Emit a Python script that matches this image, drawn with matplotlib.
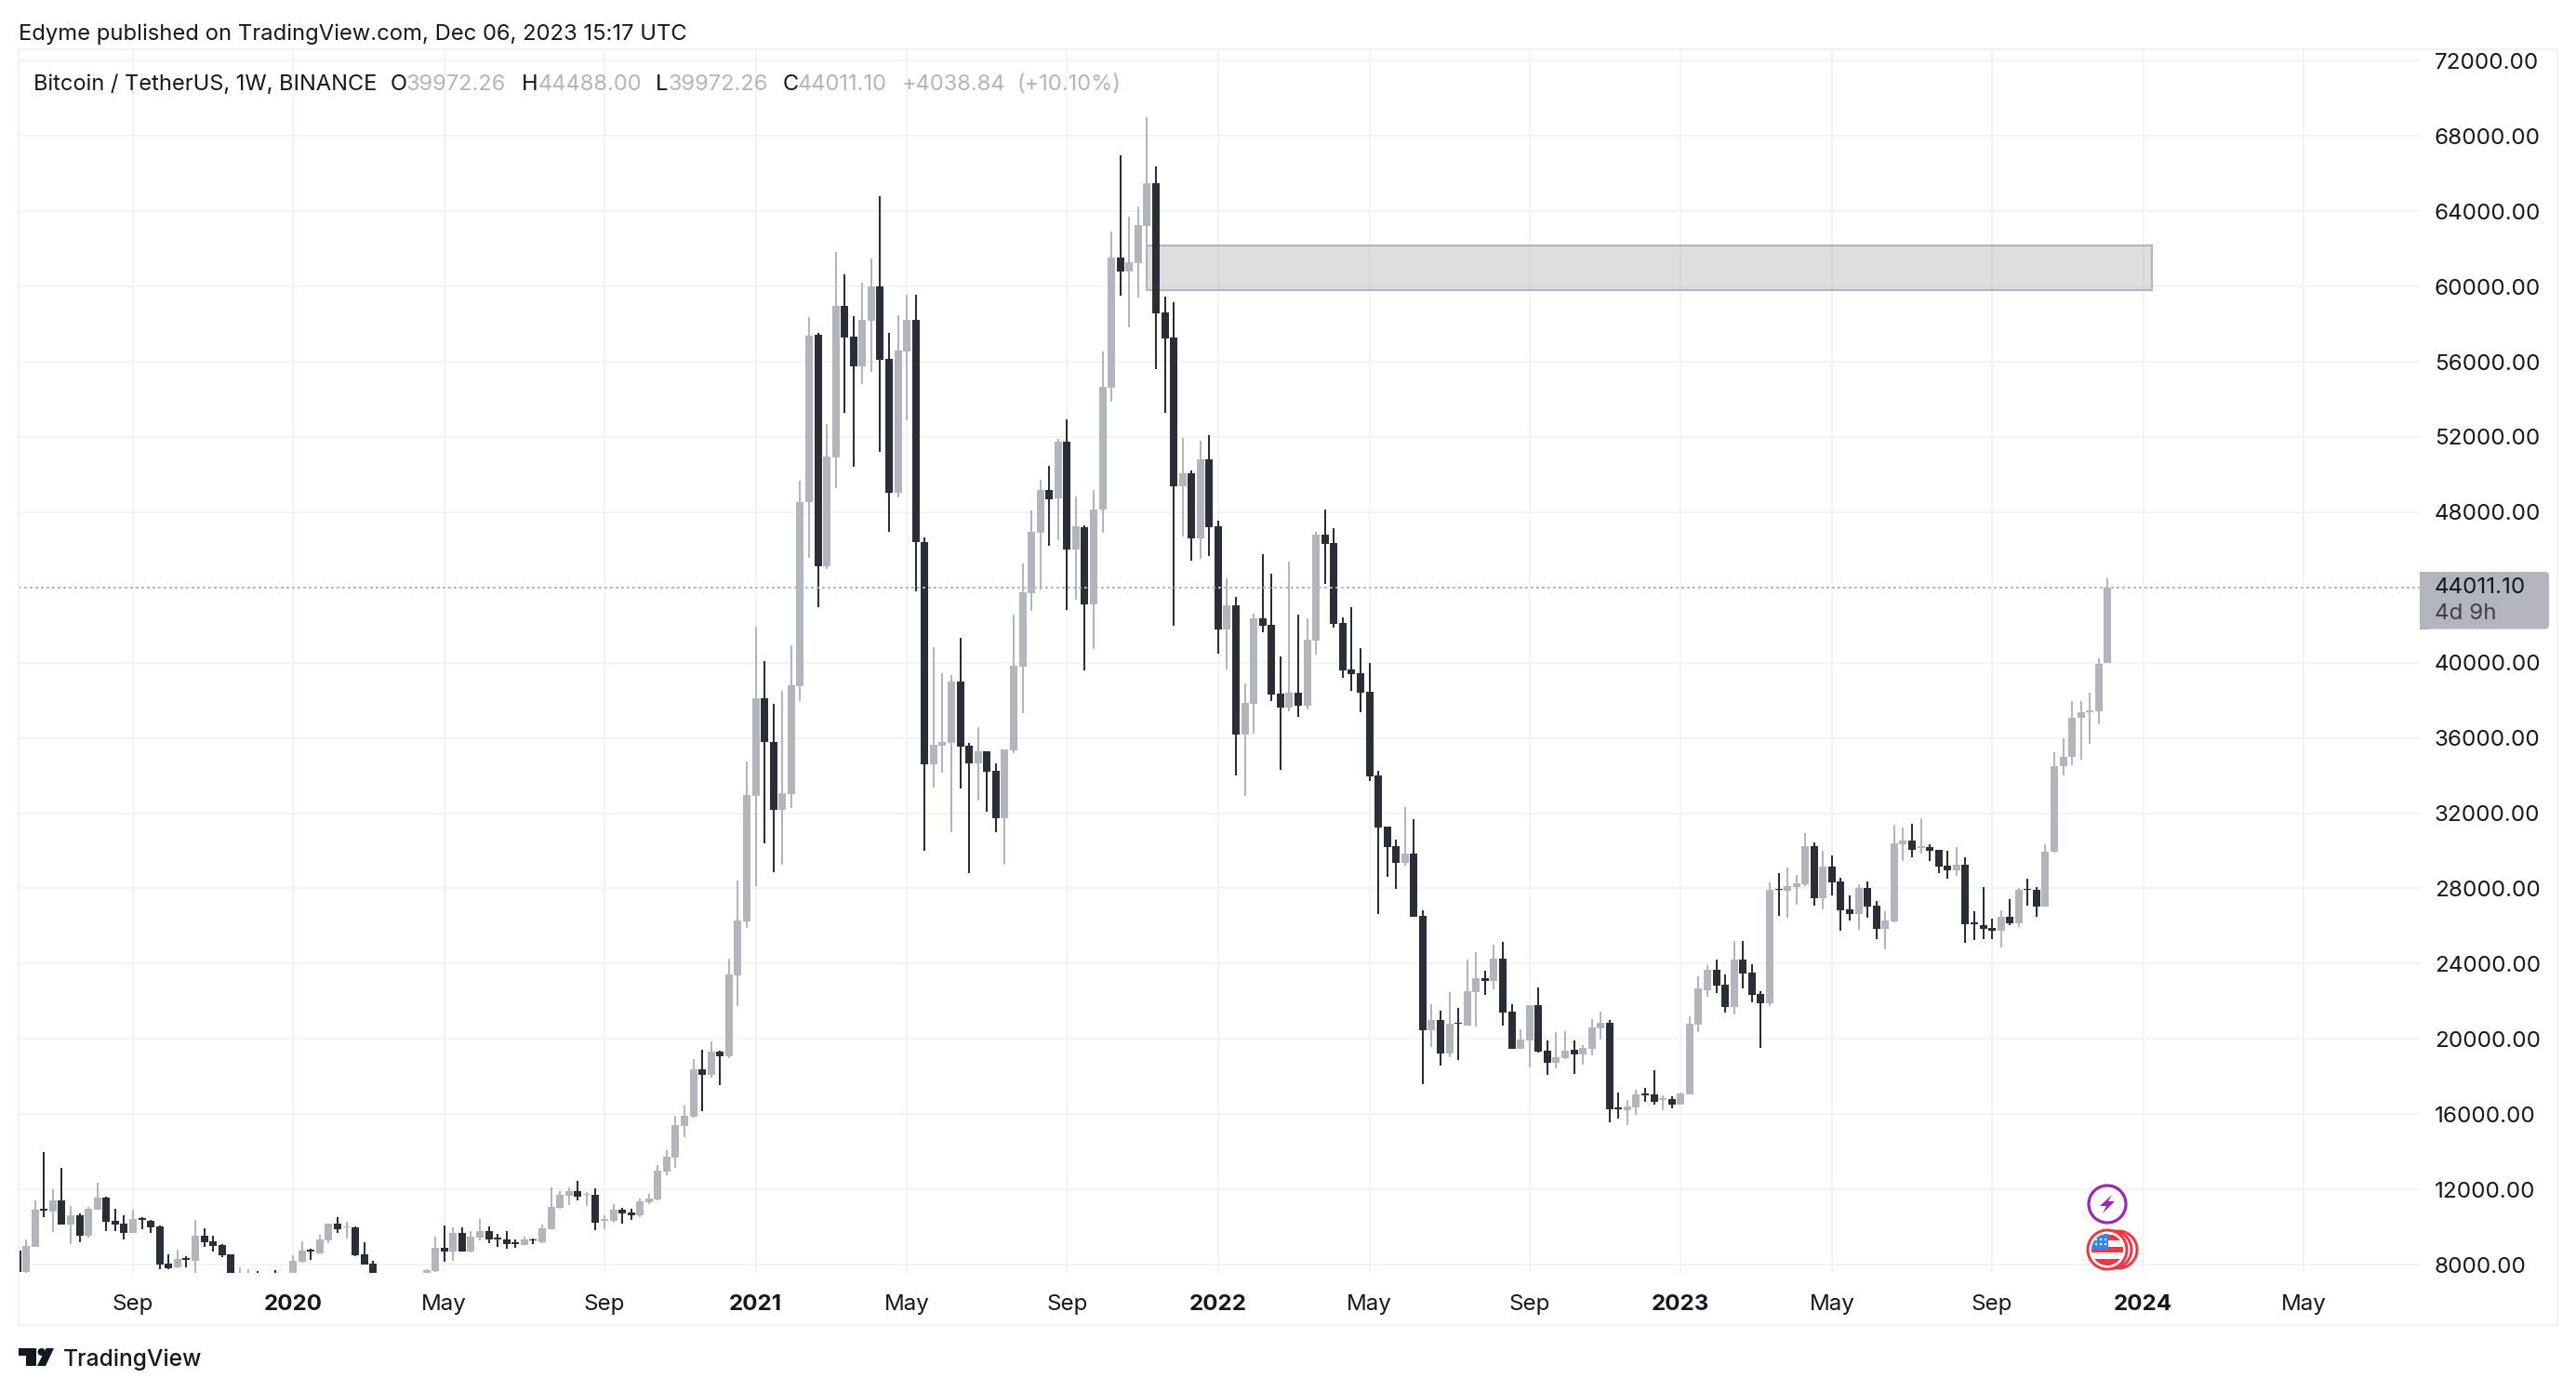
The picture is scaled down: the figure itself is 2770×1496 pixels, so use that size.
import matplotlib
matplotlib.use("Agg")
import matplotlib.pyplot as plt
import matplotlib.dates as mdates
from matplotlib.patches import Rectangle, Circle, Polygon, FancyBboxPatch
import pandas as pd

plt.rcParams['font.family'] = ['Inter', 'DejaVu Sans']

# ---------- weekly data ----------
first_week = "2019-06-03"
direction = ("d u u d u d u d u u "  "d d d u d d d d u d "  "u d d d d u u d u d "  "u u u d u u d u d d "
             "d u u u u u u u d u "  "d u u d d d d u d u "  "u u u d u d u u d d "  "u u u u u u u d u d "
             "u u u u d d u u u u "  "d u u d d u u d d u "  "u d d u u u d d u d "  "d u u u u u d u d u "
             "d u u u d u u u d d "  "d u d u d d u d u u "  "d d d u d u u d d d "  "d d d d d d u d d u "
             "d u d u u d u d d u "  "u d d u u d u u u d "  "d u u d d u d u u u "  "u d d u d d d u d u "
             "u u d u d d d u d d "  "u u u d u d d d u d "  "d d d u d u d d u u "  "u u u u u u").split()

highs = [8850, 9317, 11407, 13975, 12000, 13135, 11111, 10716, 11062, 12345,
         11605, 10963, 10617, 10913, 10518, 10370, 10074, 8543, 8790, 8444,
         10370, 9926, 9531, 9086, 8543, 7852, 7753, 7654, 7556, 7704,
         7450, 8494, 9235, 8839, 9580, 10173, 10518, 10272, 10025, 9185,
         8198, 6900, 6950, 7200, 7470, 7300, 7753, 9481, 10074, 9975,
         9975, 9778, 10420, 10025, 9613, 9761, 9317, 9465, 9366, 10107,
         12131, 11885, 12082, 12477, 11835, 12033, 10601, 11193, 10996, 10946,
         11490, 11736, 13317, 14107, 15934, 16477, 18946, 19440, 19884, 19390,
         24279, 28428, 34749, 41909, 40082, 37810, 38501, 40921, 49661, 58353,
         57514, 52707, 61810, 60625, 58403, 60180, 61464, 64800, 57514, 58452,
         59563, 59563, 46649, 40823, 39440, 39341, 41316, 35736, 36576, 35292,
         34650, 35391, 42551, 45267, 48081, 49711, 50451, 51885, 52922, 48823,
         47291, 49168, 56543, 62913, 66962, 63703, 64246, 68987, 66369, 59456,
         59160, 51950, 50222, 51802, 52098, 47538, 44477, 43489, 38897, 42600,
         45761, 44724, 40329, 45366, 42551, 42353, 46946, 48131, 47143, 42403,
         42946, 40773, 39983, 34255, 31300, 30600, 32328, 31686, 26847, 21860,
         21514, 22502, 21662, 24230, 24625, 23637, 25020, 25168, 21860, 20527,
         21810, 22749, 19934, 20378, 20428, 19934, 19687, 21070, 21465, 21020,
         17169, 16774, 17317, 17416, 18354, 17021, 16971, 17169, 21218, 23341,
         23934, 24230, 23440, 25218, 25218, 23983, 22551, 28329, 28822, 29119,
         28724, 30946, 30452, 30008, 29761, 28576, 27637, 28230, 28378, 27341,
         26798, 31390, 31242, 31440, 31736, 30353, 30057, 30008, 30205, 29662,
         26798, 28082, 26403, 26847, 27440, 28032, 28526, 28082, 30353, 35237,
         35993, 37959, 37959, 38387, 40227, 44488]

body_tops = [8741, 8988, 10913, 10946, 11407, 11407, 10617, 10617, 10963, 11555,
             11555, 10321, 10173, 10420, 10469, 10321, 10025, 8049, 8296, 8346,
             9531, 9531, 9235, 9037, 8543, 7500, 7556, 7556, 7400, 7300,
             7350, 8198, 8741, 8790, 9333, 10173, 10173, 10025, 9975, 8543,
             8049, 5800, 6240, 6770, 6860, 7100, 7704, 8889, 8889, 9679,
             9679, 9481, 9778, 9778, 9416, 9317, 9169, 9317, 9350, 9909,
             11045, 11687, 11885, 11885, 11769, 11687, 10403, 10897, 10897, 10749,
             11341, 11490, 13020, 13761, 15440, 15934, 18403, 18403, 19341, 19341,
             23440, 26305, 32971, 38106, 38106, 35786, 33070, 38798, 48526, 57366,
             57415, 50946, 58946, 58946, 57316, 58205, 60000, 60000, 56131, 56576,
             58205, 58205, 46402, 35637, 35786, 38995, 38995, 35588, 35292, 35292,
             34255, 35391, 39835, 43736, 46945, 49168, 49168, 51736, 51736, 47243,
             47192, 48131, 54666, 61530, 61530, 61283, 63258, 65481, 65481, 58617,
             57283, 50074, 50074, 50815, 50815, 47242, 43045, 43045, 37860, 42353,
             42353, 42008, 38354, 38403, 38403, 41218, 46798, 46798, 46353, 42106,
             39637, 39440, 38452, 34008, 31291, 30254, 29859, 29859, 26551, 21020,
             21020, 20823, 20872, 22551, 23242, 23242, 24279, 24279, 21465, 19983,
             21810, 21810, 19391, 19045, 19391, 19440, 19539, 20625, 20872, 20872,
             16379, 16428, 17070, 17119, 17070, 16872, 16823, 17119, 20823, 22699,
             23687, 23687, 22897, 24230, 24230, 23539, 22403, 27934, 27983, 28131,
             28279, 30254, 30254, 29168, 29168, 28378, 26897, 28033, 28033, 27094,
             26304, 30403, 30551, 30551, 30254, 30205, 30057, 29218, 29267, 29267,
             26205, 26057, 25909, 26501, 26501, 27934, 27983, 27930, 29958, 34481,
             34985, 37052, 37354, 37455, 39950, 44011.10]

body_bottoms = [7621, 7621, 8955, 10881, 10815, 10123, 10123, 9531, 9531, 10913,
                10271, 10123, 9679, 9679, 10370, 9975, 8000, 7802, 7852, 8263,
                8198, 9185, 8988, 8494, 7390, 7300, 7400, 7200, 7200, 7100,
                6950, 7350, 8148, 8691, 8593, 9284, 9876, 9975, 8494, 8000,
                5350, 5350, 5800, 6240, 6770, 6860, 7120, 7654, 8691, 8691,
                8691, 8675, 9432, 9333, 9333, 9070, 9086, 9020, 9284, 9169,
                9860, 10996, 11638, 11588, 11687, 10206, 10337, 10304, 10699, 10601,
                10601, 11292, 11440, 12971, 13712, 15391, 15884, 18106, 18106, 19094,
                19094, 23390, 26255, 32922, 35786, 32181, 32181, 33020, 38748, 48527,
                45119, 45119, 50897, 57267, 55736, 55736, 58156, 56083, 49021, 49021,
                56527, 46403, 34600, 34600, 35588, 35736, 35539, 34650, 34650, 34205,
                31736, 31736, 35341, 39785, 43686, 46896, 48674, 48724, 46008, 46008,
                43094, 43094, 48148, 54617, 60789, 60789, 61234, 63209, 58567, 57234,
                49383, 49383, 46600, 46600, 47192, 41761, 41761, 36181, 36181, 37810,
                41958, 38304, 37613, 37613, 37712, 37712, 41168, 46304, 42057, 39588,
                39391, 38403, 33959, 31259, 30205, 29366, 29366, 26501, 20477, 20477,
                19243, 19243, 20790, 20724, 22502, 23094, 23094, 21415, 19490, 19490,
                19934, 19341, 18749, 18749, 18996, 19193, 19193, 19490, 20576, 16280,
                16280, 16230, 16379, 17021, 16675, 16774, 16527, 16527, 17070, 20773,
                22600, 22847, 21712, 21712, 23489, 22354, 21909, 21909, 27901, 27884,
                28082, 28230, 27489, 27489, 28329, 26847, 26650, 26650, 27045, 25860,
                25860, 26255, 30353, 30057, 30156, 30008, 29168, 28971, 28971, 26106,
                26106, 25860, 25761, 25761, 26156, 26156, 27901, 27045, 27045, 29945,
                34481, 34985, 37052, 37379, 37404, 39972.26]

lows = [7400, 7556, 8955, 10518, 9728, 10123, 9086, 9185, 9432, 10913,
        9778, 9778, 9333, 9679, 9876, 9679, 7753, 7753, 7802, 7852,
        7300, 8938, 8691, 8395, 6900, 7000, 7100, 7100, 7000, 6900,
        6800, 7250, 8099, 8247, 8543, 9136, 9679, 9383, 8444, 8000,
        3800, 5100, 5700, 6200, 6600, 6500, 6800, 7605, 8148, 8198,
        8691, 8642, 9284, 9136, 8922, 8823, 8872, 9020, 9070, 9119,
        9860, 10946, 11144, 11391, 11094, 9811, 9860, 10206, 10156, 10354,
        10502, 11193, 11391, 12773, 13168, 14798, 15835, 16181, 17958, 17563,
        18995, 21761, 25910, 28132, 30403, 28872, 29267, 32280, 37958, 45564,
        42946, 44971, 49267, 53267, 50403, 54798, 55440, 51193, 46947, 48774,
        52872, 43785, 30008, 33366, 34156, 30996, 33317, 28823, 32675, 32082,
        30996, 29267, 35193, 37316, 42748, 43884, 46205, 46502, 42798, 43341,
        39588, 40724, 46914, 53876, 59506, 57827, 59407, 62221, 55605, 53284,
        41958, 46698, 45415, 45514, 45662, 40477, 39637, 34008, 32922, 36230,
        41613, 37959, 34304, 37415, 37119, 37514, 40428, 44180, 41860, 39193,
        38502, 37366, 33712, 26650, 28625, 27983, 29217, 26501, 17613, 19588,
        18601, 19045, 18897, 20724, 20675, 22354, 22650, 20724, 19490, 19490,
        18502, 19292, 18107, 18453, 18946, 18156, 18650, 19144, 19983, 15589,
        15786, 15440, 15984, 16675, 16527, 16230, 16329, 16527, 17070, 20378,
        22255, 22452, 21415, 21317, 22699, 21959, 19539, 21761, 26551, 26452,
        27144, 28131, 27094, 26897, 27637, 25761, 26304, 25810, 26452, 25316,
        24773, 26205, 29465, 29662, 29859, 29465, 28822, 28526, 28674, 25119,
        25267, 25316, 25316, 24872, 26057, 25958, 27094, 26501, 27045, 29895,
        34028, 34531, 34834, 35666, 36699, 39972.26]

# ---------- scales and labels ----------
price_ticks = [8000, 12000, 16000, 20000, 24000, 28000, 32000, 36000, 40000,
               48000, 52000, 56000, 60000, 64000, 68000, 72000]
month_tick_dates = ["2019-09-02", "2020-01-06", "2020-05-04", "2020-09-07", "2021-01-04",
                    "2021-05-03", "2021-09-06", "2022-01-03", "2022-05-02", "2022-09-05",
                    "2023-01-02", "2023-05-01", "2023-09-04", "2024-01-01", "2024-05-06"]
month_tick_labels = ["Sep", "2020", "May", "Sep", "2021", "May", "Sep", "2022", "May", "Sep",
                     "2023", "May", "Sep", "2024", "May"]
zone_prices = [59822, 62180]
zone_dates = ["2021-11-08", "2024-01-08"]
last_price = 44011.10
ohlc_legend = ["39972.26", "44488.00", "39972.26", "44011.10"]

# ---------- styles ----------
W, H, DPI = 2770, 1496, 100
PX = 72 / DPI
UP, DOWN = "#b2b5be", "#2a2e39"
INK, GRID = "#131722", "#f2f3f6"
week_px = 9.565
day_px = week_px / 7

fig = plt.figure(figsize=(W / DPI, H / DPI), dpi=DPI, facecolor="white")
L, R, T, B = 20, 2602, 53, 1369
ax = fig.add_axes([L / W, 1 - B / H, (R - L) / W, (B - T) / H], facecolor="none")

weeks = pd.date_range(first_week, periods=len(highs), freq="7D")
xs = mdates.date2num(weeks)
x_anchor = mdates.date2num(pd.Timestamp("2019-09-02"))
ax.set_xlim(x_anchor - (143 - L) / day_px, x_anchor + (R - 143) / day_px)
ax.set_ylim(7559, 72610)

colors = [UP if d == "u" else DOWN for d in direction]
ax.bar(xs, [h - l for h, l in zip(highs, lows)], bottom=lows, width=2 / day_px,
       color=colors, linewidth=0, zorder=3)
ax.bar(xs, [t - b for t, b in zip(body_tops, body_bottoms)], bottom=body_bottoms, width=8 / day_px,
       color=colors, linewidth=0, zorder=3)

# supply zone
z0, z1 = mdates.date2num(pd.Timestamp(zone_dates[0])), mdates.date2num(pd.Timestamp(zone_dates[1]))
ax.add_patch(Rectangle((z0, zone_prices[0]), z1 - z0, zone_prices[1] - zone_prices[0],
                       facecolor=(0.693, 0.693, 0.72, 0.42), edgecolor=UP, linewidth=2.2 * PX, zorder=2))

# last price line
ax.axhline(last_price, color=UP, lw=2 * PX, ls=(0, (1.4, 1.6)), zorder=4)

# axes furniture
ax.set_yticks(price_ticks)
ax.set_yticklabels([f"{p:.2f}" for p in price_ticks], fontsize=17.4, color=INK)
ax.yaxis.tick_right()
ax.set_xticks(mdates.date2num(pd.to_datetime(month_tick_dates)))
ax.set_xticklabels(month_tick_labels, fontsize=17.4, color=INK)
for lab, txt in zip(ax.get_xticklabels(), month_tick_labels):
    if txt.isdigit():
        lab.set_fontweight("bold")
ax.tick_params(axis="both", length=0)
ax.tick_params(axis="y", pad=11.5)
ax.tick_params(axis="x", pad=16.8)
ax.grid(True, color=GRID, lw=2 * PX, zorder=1)
ax.set_axisbelow(True)
for s in ax.spines.values():
    s.set_visible(False)

# ---------- pixel overlay for the chrome ----------
ov = fig.add_axes([0, 0, 1, 1], facecolor="none", zorder=10)
ov.set_xlim(0, W)
ov.set_ylim(H, 0)
ov.axis("off")

ov.add_patch(Rectangle((20, 53), 2730, 1372, fill=False, ec="#f0f1f6", lw=2 * PX))

ov.text(20, 36.5, "Edyme published on TradingView.com, Dec 06, 2023 15:17 UTC",
        fontsize=17.14, color=INK, va="center", ha="left")

ov.text(36, 90.5, "Bitcoin / TetherUS, 1W, BINANCE", fontsize=17.0, color=INK, va="center")
for (lx, vx), key, val in zip([(420, 437), (561, 579), (705, 719), (842, 858)], "OHLC", ohlc_legend):
    ov.text(lx, 90.5, key, fontsize=17.0, color=INK, va="center")
    ov.text(vx, 90.5, val, fontsize=17.0, color=UP, va="center")
ov.text(970, 90.5, "+4038.84", fontsize=17.0, color=UP, va="center")
ov.text(1093, 90.5, "(+10.10%)", fontsize=17.0, color=UP, va="center")

# last price label
ov.add_patch(FancyBboxPatch((2602, 615), 139, 61.5, boxstyle="round,pad=0,rounding_size=4",
                            fc=UP, ec="none"))
ov.add_patch(Rectangle((2602, 615), 10, 61.5, fc=UP, ec="none"))
ov.text(2618, 632, f"{last_price:.2f}", fontsize=17.4, color=INK, va="center")
ov.text(2618, 660, "4d 9h", fontsize=17.4, color="#3f414a", va="center")

# event icons
cx, cy = 2266, 1295
ov.add_patch(Circle((cx, cy), 20, fc="white", ec="#9c27b0", lw=3.2 * PX))
ov.add_patch(Polygon([(cx + 5, cy - 10), (cx - 8, cy + 2), (cx - 1, cy + 2), (cx - 5, cy + 10),
                      (cx + 8, cy - 3), (cx + 1, cy - 3)], closed=True, fc="#9c27b0", ec="none"))

RED = "#f23645"
fy = 1344
for off in (12, 6):
    ov.add_patch(Circle((cx + off, fy), 20, fc="white", ec=RED, lw=3 * PX))
ov.add_patch(Circle((cx, fy), 21, fc="white", ec=RED, lw=3 * PX))
clip = Circle((cx, fy), 17, transform=ov.transData)
for dy, h, col in [(-16, 6, RED), (-3, 6, RED), (10, 7, RED)]:
    r = Rectangle((cx - 18, fy + dy), 36, h, fc=col, ec="none")
    ov.add_patch(r)
    r.set_clip_path(clip)
r = Rectangle((cx - 18, fy - 17), 19, 17, fc="#2d87f0", ec="none")
ov.add_patch(r)
r.set_clip_path(clip)
for sx, sy in [(-12, -11), (-7, -11), (-2, -11), (-12, -6), (-7, -6), (-2, -6)]:
    ov.add_patch(Circle((cx + sx, fy + sy), 1.2, fc="white", ec="none"))

# TradingView mark
mark = [[(20, 1450), (39.3, 1450), (39.3, 1469), (27.7, 1469), (27.7, 1458), (20, 1458)],
        [(49.5, 1450), (58, 1450), (49, 1469), (40, 1469)]]
for pts in mark:
    ov.add_patch(Polygon(pts, closed=True, fc=INK, ec="none"))
ov.add_patch(Circle((44.6, 1454), 4, fc=INK, ec="none"))
ov.text(68, 1462, "TradingView", fontsize=17.7, color=INK, va="center", fontweight="medium")

fig.savefig("out.png", dpi=DPI, facecolor="white")
